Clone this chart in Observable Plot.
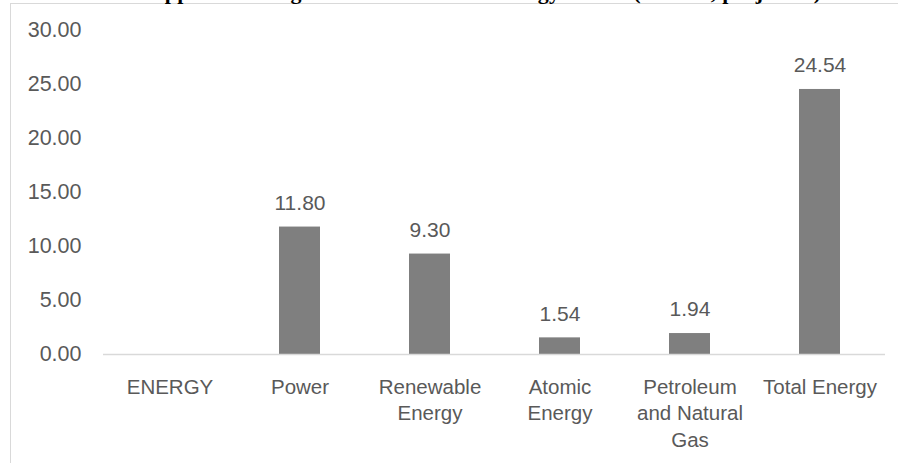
<!DOCTYPE html>
<html>
<head>
<meta charset="utf-8">
<script src="https://cdn.jsdelivr.net/npm/d3@7"></script>
<script src="https://cdn.jsdelivr.net/npm/@observablehq/plot@0.6"></script>
<style>
  html, body { margin: 0; padding: 0; background: #fff; overflow: hidden; }
  #wrap { position: relative; width: 898px; height: 463px; overflow: hidden; }
  #frame { position: absolute; left: 10px; top: 3px; width: 2000px; height: 2000px;
           border-left: 1px solid #d9d9d9; border-top: 1px solid #d9d9d9; }
  #title { position: absolute; left: 130px; width: 710px; top: -19px; text-align: center;
           font-family: "Liberation Serif", "Times New Roman", serif; font-weight: bold;
           font-size: 22px; color: #000; white-space: nowrap; line-height: 22px; letter-spacing: 0.3px; }
  #chart { position: absolute; left: 0; top: 0; }
</style>
</head>
<body>
<div id="wrap">
  <div id="frame"></div>
  <div id="title">Approved Budget Allocation to the Energy Sector (₹ crore, projected)</div>
  <div id="chart"></div>
</div>
<script>
const categories = ["ENERGY", "Power", "Renewable Energy", "Atomic Energy", "Petroleum and Natural Gas", "Total Energy"];
const categoryLabels = ["ENERGY", "Power", "Renewable\nEnergy", "Atomic\nEnergy", "Petroleum\nand Natural\nGas", "Total Energy"];
const values = [null, 11.80, 9.30, 1.54, 1.94, 24.54];
const yTicks = [0, 5, 10, 15, 20, 25, 30];

const data = categories.map((c, i) => ({category: c, value: values[i]}));
const labelOf = new Map(categories.map((c, i) => [c, categoryLabels[i]]));
const bars = data.filter(d => d.value != null);

const font = "'Liberation Sans', Arial, sans-serif";
const grey = "#595959";

const chart = Plot.plot({
  width: 898,
  height: 463,
  marginLeft: 103,
  marginRight: 13,
  marginTop: 30,
  marginBottom: 109,
  style: { fontFamily: font, fontSize: "20px", color: grey, background: "transparent", overflow: "visible" },
  x: { domain: categories, paddingInner: 0.685, paddingOuter: 0.3425, align: 0.5 },
  y: { domain: [0, 30] },
  marks: [
    Plot.axisY({ ticks: yTicks, tickFormat: d => d.toFixed(2), tickSize: 0, tickPadding: 22, label: null, fill: grey, fontSize: 21.5 }),
    Plot.axisX({ tickFormat: d => labelOf.get(d), tickSize: 0, tickPadding: 20, label: null, fill: grey, fontSize: 20.5, lineHeight: 1.31, lineAnchor: "top" }),
    Plot.barY(bars, { x: "category", y: "value", fill: "#7f7f7f" }),
    Plot.ruleY([0], { stroke: "#d9d9d9", strokeWidth: 1.5 }),
    Plot.text(bars, { x: "category", y: "value", text: d => d.value.toFixed(2), dy: -24, lineAnchor: "middle", fill: grey, fontSize: 21 })
  ]
});
document.getElementById("chart").appendChild(chart);
</script>
</body>
</html>
